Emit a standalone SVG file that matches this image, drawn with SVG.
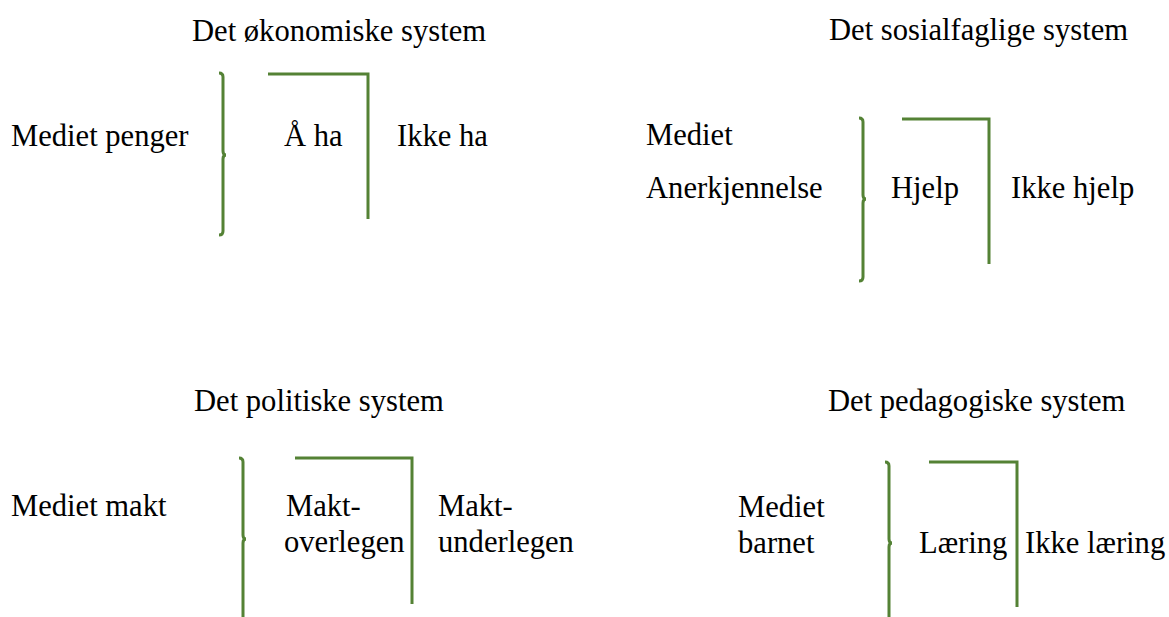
<svg xmlns="http://www.w3.org/2000/svg" width="1169" height="617" viewBox="0 0 1169 617">
<style>
text{font-family:'Liberation Serif',serif;font-size:30.6px;fill:#000}
.br{fill:none;stroke:#548235;stroke-width:3;stroke-linejoin:miter}
</style>
<rect width="1169" height="617" fill="#fff"/>
<g font-family="Liberation Serif, serif">
<g id="okonomisk">
<text x="192" y="41">Det økonomiske system</text>
<text x="11" y="146">Mediet penger</text>
<text x="284" y="146">Å ha</text>
<text x="397" y="146">Ikke ha</text>
</g>
<g id="sosialfaglig">
<text x="829" y="40">Det sosialfaglige system</text>
<text x="646" y="145">Mediet</text>
<text x="646" y="198">Anerkjennelse</text>
<text x="891" y="198">Hjelp</text>
<text x="1011" y="198">Ikke hjelp</text>
</g>
<g id="politisk">
<text x="194" y="411">Det politiske system</text>
<text x="11" y="516">Mediet makt</text>
<text x="286" y="516">Makt-</text>
<text x="284" y="552">overlegen</text>
<text x="438" y="516">Makt-</text>
<text x="438" y="552">underlegen</text>
</g>
<g id="pedagogisk">
<text x="828" y="411">Det pedagogiske system</text>
<text x="738" y="517">Mediet</text>
<text x="738" y="553">barnet</text>
<text x="919" y="553">Læring</text>
<text x="1025" y="553">Ikke læring</text>
</g>
</g>
<g id="connectors">
<path class="br" d="M219,73 Q223,73 223,77 L223,151 Q223,155 226,155 Q223,155 223,159 L223,231 Q223,235 219,235"/>
<path class="br" d="M268,74 H368 V219"/>
<path class="br" d="M859,118 Q863,118 863,122 L863,195 Q863,199 866,199 Q863,199 863,203 L863,277 Q863,281 859,281"/>
<path class="br" d="M902,119 H989 V264"/>
<path class="br" d="M239,458 Q243,458 243,462 L243,535 Q243,539 246,539 Q243,539 243,543 L243,620"/>
<path class="br" d="M295,458 H412 V604"/>
<path class="br" d="M885,462 Q889,462 889,466 L889,539 Q889,543 892,543 Q889,543 889,547 L889,620"/>
<path class="br" d="M929,462 H1017 V607"/>
</g>
</svg>
